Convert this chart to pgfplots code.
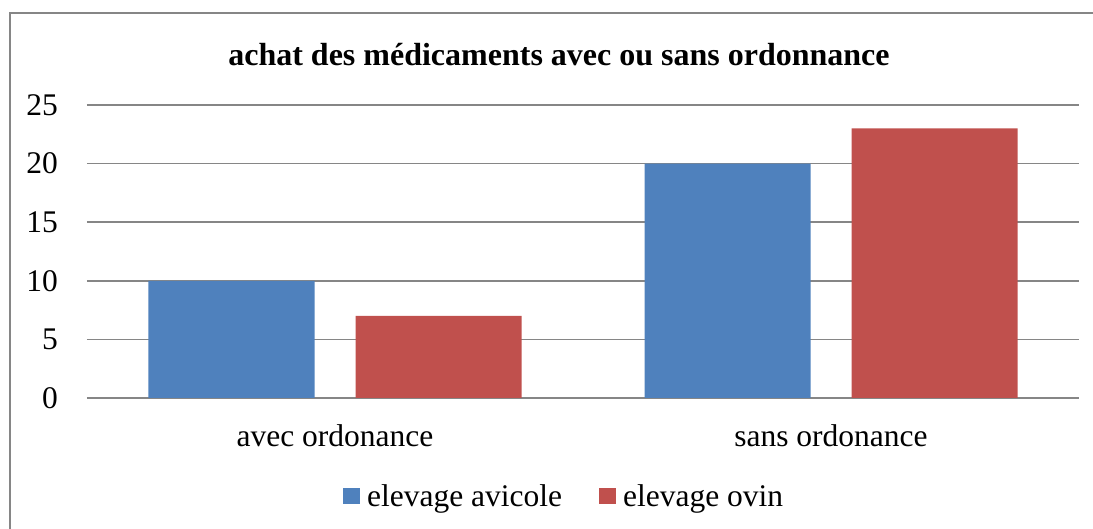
\documentclass[border=0pt]{standalone}
\usepackage{fontspec}
\setmainfont{Liberation Serif}
\usepackage{pgfplots}
\pgfplotsset{compat=1.18}
\definecolor{cblue}{HTML}{4F81BD}
\definecolor{cred}{HTML}{C0504D}
\definecolor{gridc}{HTML}{868686}
\begin{document}
\begin{tikzpicture}
\useasboundingbox (0,0) rectangle (1093pt,529pt);
\draw[gridc, line width=2pt] (10pt,0) -- (10pt,516pt) -- (1093pt,516pt);
\begin{axis}[at={(87pt,131pt)}, anchor=south west, scale only axis,
  width=992pt, height=293pt,
  xmin=-0.5, xmax=1.5, ymin=0, ymax=25,
  ytick={0,5,10,15,20,25}, xtick={0,1},
  xticklabels={avec ordonance, sans ordonance},
  /pgf/number format/assume math mode=true,
  axis line style={draw=none}, ymajorgrids,
  grid style={gridc, line width=1.5pt},
  major tick length=0pt,
  ybar=41pt, bar width=166pt,
  tick label style={font=\fontsize{31.5}{37}\selectfont},
  yticklabel style={anchor=east, inner sep=0pt, xshift=-29pt},
  xticklabel style={anchor=base, inner sep=0pt, yshift=-49pt},
  legend style={at={(0.480,-0.334)}, anchor=center, draw=none,
    font=\fontsize{31.5}{37}\selectfont, legend columns=2,
    nodes={inner sep=0pt},
    /tikz/every odd column/.append style={column sep=7pt},
    /tikz/every even column/.append style={column sep=37pt}},
  legend image code/.code={\fill[#1, draw=none] (0pt,-8pt) rectangle (17pt,8pt);},
  clip=false,
]
\addplot[fill=cblue, draw=none] coordinates {(0,10) (1,20)};
\addplot[fill=cred, draw=none] coordinates {(0,7) (1,23)};
\legend{elevage avicole, elevage ovin}
\end{axis}
\node[font=\bfseries\fontsize{32}{37}\selectfont] at (559pt,474pt) {achat des médicaments avec ou sans ordonnance};
\end{tikzpicture}
\end{document}
